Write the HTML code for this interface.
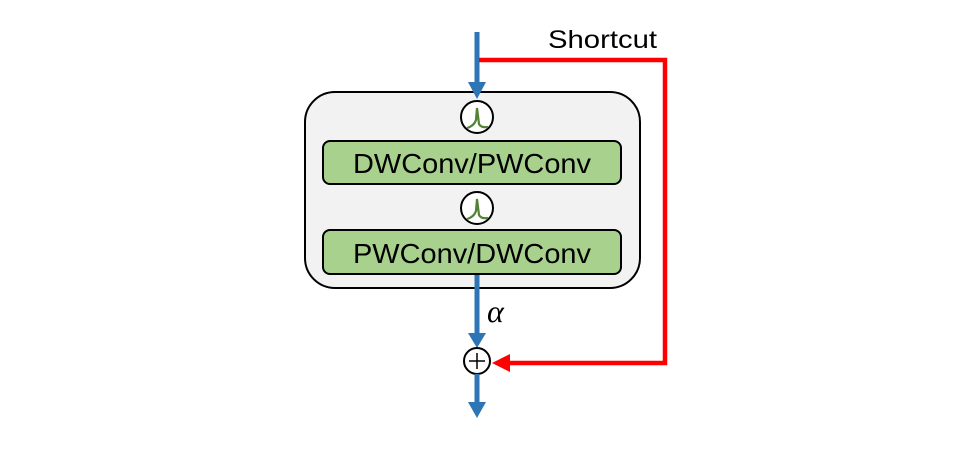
<!DOCTYPE html>
<html><head><meta charset="utf-8"><style>body{margin:0;background:#fff}svg{display:block}</style></head><body>
<svg width="972" height="452" viewBox="0 0 972 452" xmlns="http://www.w3.org/2000/svg">
<rect x="305" y="92" width="335" height="196" rx="30" fill="#f2f2f2" stroke="#000" stroke-width="2"/>
<line x1="477" y1="32" x2="477" y2="82" stroke="#2e75b6" stroke-width="5"/>
<polygon points="468,82 486,82 477,99" fill="#2e75b6"/>
<polyline points="479,60 665,60 665,363 510,363" fill="none" stroke="#ff0000" stroke-width="4.5"/>
<polygon points="510,354 510,372 492,363" fill="#ff0000"/>
<g fill="#fff" stroke="#000" stroke-width="2">
<circle cx="477" cy="117" r="16"/><circle cx="477" cy="208" r="16"/>
</g>
<path d="M467,128 Q474,126 476,120 L477,108 L479,124 Q481,128 488,127" fill="none" stroke="#548235" stroke-width="2.2"/>
<path d="M467,219 Q474,217 476,211 L477,199 L479,215 Q481,219 488,218" fill="none" stroke="#548235" stroke-width="2.2"/>
<rect x="323" y="141" width="298" height="43" rx="7" fill="#a9d18e" stroke="#000" stroke-width="2"/>
<rect x="323" y="230" width="298" height="44" rx="7" fill="#a9d18e" stroke="#000" stroke-width="2"/>
<g font-family="Liberation Sans, sans-serif" font-size="28" fill="#000" text-anchor="middle">
<text x="472" y="173" textLength="238" lengthAdjust="spacingAndGlyphs">DWConv/PWConv</text>
<text x="472" y="263" textLength="238" lengthAdjust="spacingAndGlyphs">PWConv/DWConv</text>
</g>
<text x="548" y="48" font-family="Liberation Sans, sans-serif" font-size="25" textLength="109" lengthAdjust="spacingAndGlyphs">Shortcut</text>
<line x1="477" y1="275" x2="477" y2="333" stroke="#2e75b6" stroke-width="5"/>
<polygon points="468,333 486,333 477,348" fill="#2e75b6"/>
<text x="487" y="322" font-family="Liberation Serif, serif" font-style="italic" font-size="32" fill="#000">α</text>
<circle cx="477" cy="361" r="13" fill="#fff" stroke="#000" stroke-width="2"/>
<line x1="469" y1="361" x2="485" y2="361" stroke="#000" stroke-width="1.5"/>
<line x1="477" y1="353" x2="477" y2="369" stroke="#000" stroke-width="1.5"/>
<line x1="477" y1="374" x2="477" y2="402" stroke="#2e75b6" stroke-width="5"/>
<polygon points="468,402 486,402 477,418" fill="#2e75b6"/>
</svg>
</body></html>
